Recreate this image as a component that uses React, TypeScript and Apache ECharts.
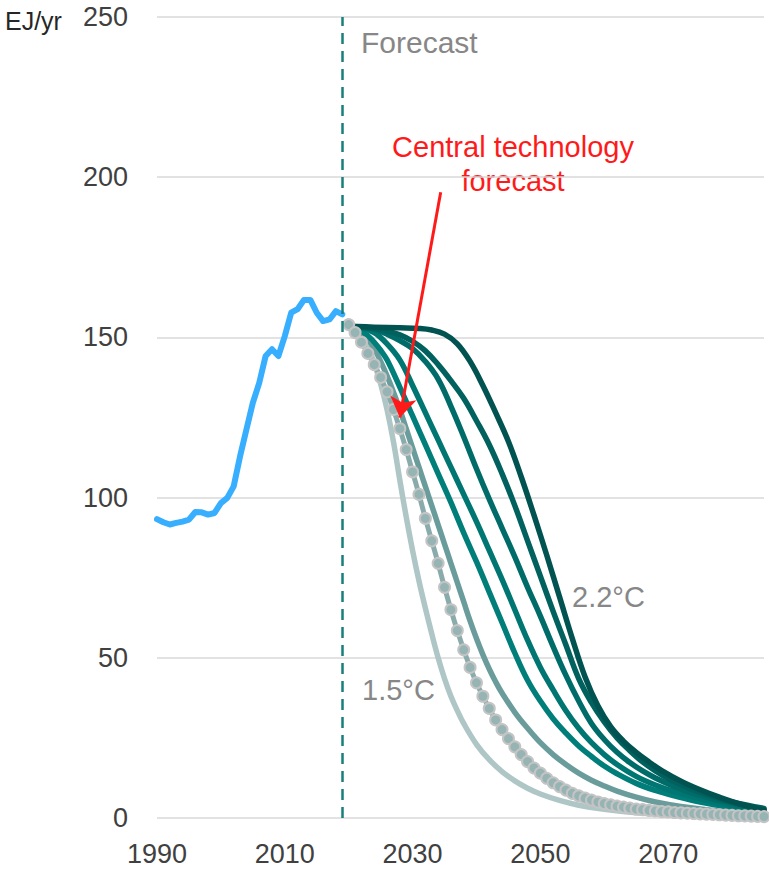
import React, { useEffect, useRef } from "react";
import * as echarts from "echarts";

// ---------- data ----------
const historyYears = [
  1990, 1991, 1992, 1993, 1994, 1995, 1996, 1997, 1998, 1999,
  2000, 2001, 2002, 2003, 2004, 2005, 2006, 2007, 2008, 2009,
  2010, 2011, 2012, 2013, 2014, 2015, 2016, 2017, 2018, 2019,
];
const historyValues = [
  93.3, 92.3, 91.6, 92.1, 92.5, 93.1, 95.5, 95.4, 94.7, 95.2,
  98.3, 99.9, 103.5, 112.9, 121.3, 129.6, 135.8, 144.2, 146.3, 144.2,
  150.4, 157.7, 158.8, 161.7, 161.7, 157.7, 155.1, 155.6, 158.2, 157.2,
];

// central technology forecast, one value per year 2020..2085
const centralStartYear = 2020;
const centralValues = [
  154, 151.5, 148.5, 145, 141.5, 137.5, 133, 127.5, 121.5, 115,
  108, 101, 93.5, 86.5, 79.5, 72, 65, 58.5, 52.5, 47,
  42.2, 38, 34.2, 30.6, 27.6, 24.8, 22.2, 19.8, 17.6, 15.6,
  14, 12.4, 11, 9.8, 8.7, 7.7, 6.9, 6.2, 5.6, 5,
  4.5, 4.1, 3.7, 3.4, 3.1, 2.8, 2.6, 2.4, 2.2, 2.0,
  1.9, 1.7, 1.6, 1.5, 1.4, 1.3, 1.2, 1.1, 1.0, 0.9,
  0.8, 0.7, 0.65, 0.6, 0.5, 0.45,
];

// [year, EJ/yr] pathways, from the fastest (1.5°C) to the slowest (2.2°C)
const path15C: [number, number][] = [
  [2020, 153.5], [2021, 152.5], [2022, 150.5], [2023, 147], [2024, 142], [2025, 135.5],
  [2026, 127.5], [2027, 117.5], [2028, 105.5], [2029, 94], [2030, 83.5], [2031, 74],
  [2032, 65.5], [2033, 57.5], [2034, 50], [2035, 43.5], [2036, 38], [2037, 33.5],
  [2038, 29.5], [2040, 23], [2042, 18.2], [2044, 14.5], [2046, 11.6], [2048, 9.3],
  [2050, 7.5], [2053, 5.5], [2056, 4], [2060, 2.7], [2065, 1.6], [2070, 1],
  [2075, 0.6], [2080, 0.4], [2085, 0.25],
];
const pathB: [number, number][] = [
  [2020, 153.5], [2021, 153], [2022, 151.5], [2023, 149.5], [2024, 146.5], [2025, 142.5],
  [2026, 138], [2027, 133], [2028, 127.5], [2029, 121.5], [2030, 115.5], [2031, 109.5],
  [2032, 103.5], [2033, 97.5], [2034, 91.5], [2035, 85.5], [2036, 79.5], [2037, 73.5],
  [2038, 67.5], [2039, 61.5], [2040, 56], [2041, 51], [2042, 46.5], [2043, 42.5],
  [2044, 39], [2046, 33], [2048, 28], [2050, 23.5], [2052, 19.8], [2054, 16.7],
  [2056, 14], [2058, 11.8], [2060, 10], [2062, 8.4], [2065, 6.5], [2068, 5],
  [2072, 3.6], [2076, 2.6], [2080, 1.9], [2085, 1.3],
];
const pathC: [number, number][] = [
  [2020, 153.5], [2021, 153], [2022, 152], [2023, 150.5], [2024, 148.5], [2025, 146],
  [2026, 143], [2028, 134.5], [2030, 125.5], [2032, 116.5], [2034, 107.5], [2036, 98.5],
  [2038, 89], [2040, 80], [2042, 70.5], [2044, 61], [2046, 51.5], [2048, 43],
  [2050, 36.5], [2052, 31], [2054, 26.5], [2056, 22.5], [2058, 19.2], [2060, 16.2],
  [2062, 13.8], [2065, 10.8], [2068, 8.6], [2071, 6.9], [2075, 5], [2080, 3.3],
  [2085, 2],
];
const pathD: [number, number][] = [
  [2020, 153.5], [2022, 153], [2024, 151.5], [2026, 148], [2028, 143], [2030, 135],
  [2032, 126.5], [2034, 118], [2036, 109.5], [2038, 101], [2040, 92.5], [2042, 83.5],
  [2044, 74.5], [2046, 65], [2048, 55.5], [2050, 47], [2052, 40], [2054, 33.5],
  [2056, 28], [2058, 23.5], [2060, 19.8], [2062, 16.7], [2065, 13], [2068, 10.3],
  [2071, 8.2], [2075, 6], [2080, 3.8], [2085, 2.2],
];
const pathE: [number, number][] = [
  [2020, 153.5], [2022, 153.2], [2024, 152.5], [2026, 151], [2028, 149], [2030, 146.5],
  [2032, 142.5], [2034, 137], [2036, 128.5], [2038, 119], [2040, 109], [2042, 99.5],
  [2044, 90.5], [2046, 81.5], [2048, 72], [2050, 63], [2052, 53.5], [2054, 44.5],
  [2056, 36.5], [2058, 29.5], [2060, 24.5], [2062, 20.5], [2064, 17.3], [2066, 14.7],
  [2068, 12.5], [2071, 9.8], [2074, 7.6], [2078, 5.4], [2081, 4], [2085, 2.6],
];
const pathF: [number, number][] = [
  [2020, 153.5], [2022, 153.2], [2024, 152.8], [2026, 152], [2028, 150.8], [2030, 148.8],
  [2032, 145.8], [2034, 141.5], [2036, 136.5], [2038, 131], [2040, 124], [2042, 116.5],
  [2044, 107.5], [2046, 97.5], [2048, 86.5], [2050, 75.5], [2052, 64.5], [2054, 54],
  [2056, 43.5], [2058, 36], [2060, 30], [2062, 25], [2064, 21], [2066, 17.5],
  [2068, 14.7], [2070, 12.3], [2073, 9.5], [2076, 7.3], [2080, 5], [2085, 3],
];
const path22C: [number, number][] = [
  [2020, 153.5], [2024, 153.2], [2028, 153], [2031, 152.8], [2033, 152.3], [2035, 151],
  [2037, 148], [2039, 142.5], [2041, 135], [2043, 126.5], [2045, 117.5], [2047, 106.5],
  [2049, 94.5], [2051, 82], [2053, 69], [2055, 56], [2057, 44], [2059, 35],
  [2061, 28.5], [2063, 24], [2065, 20.5], [2067, 17.5], [2069, 14.8], [2072, 11.5],
  [2075, 8.8], [2078, 6.5], [2081, 4.5], [2085, 2.5],
];

const xMin = 1990;
const xMax = 2085;
const xTickStep = 20;
const yMax = 250;
const yTickStep = 50;
const forecastYear = 2019;
const arrowFrom: [number, number] = [2034.4, 195.3];
const arrowTo: [number, number] = [2028.0, 125];

const FONT = "'Liberation Sans', Arial, sans-serif";

export default function App() {
  const ref = useRef<HTMLDivElement>(null);

  useEffect(() => {
    if (!ref.current) return;
    const chart = echarts.init(ref.current, undefined, { renderer: "svg" });

    const history = historyYears.map((y, i) => [y, historyValues[i]]);
    const central = centralValues.map((v, i) => [centralStartYear + i, v]);

    const pathLine = (name: string, data: [number, number][], color: string) => ({
      name,
      type: "line",
      data,
      smooth: 0.4,
      showSymbol: false,
      lineStyle: { color, width: 5.5, cap: "round", join: "round" },
      emphasis: { disabled: true },
    });

    const option: any = {
      animation: false,
      grid: { left: 157, right: 5, top: 17, bottom: 52 },
      xAxis: {
        type: "value",
        min: xMin,
        max: xMax,
        interval: xTickStep,
        axisLine: { show: false },
        axisTick: { show: false },
        splitLine: { show: false },
        axisLabel: {
          fontSize: 27,
          fontFamily: FONT,
          color: "#404040",
          margin: 22,
          formatter: (v: number) => ((v - xMin) % xTickStep === 0 ? String(v) : ""),
        },
      },
      yAxis: {
        type: "value",
        min: 0,
        max: yMax,
        interval: yTickStep,
        axisLine: { show: false },
        axisTick: { show: false },
        splitLine: { lineStyle: { color: "#D9D9D9", width: 1.5 } },
        axisLabel: { fontSize: 27, fontFamily: FONT, color: "#404040", margin: 29 },
      },
      series: [
        {
          name: "History",
          type: "line",
          data: history,
          showSymbol: false,
          lineStyle: { color: "#38AEFF", width: 6, cap: "round", join: "round" },
          emphasis: { disabled: true },
          markLine: {
            silent: true,
            symbol: ["none", "none"],
            label: { show: false },
            lineStyle: { color: "#17807A", width: 2.5, type: [11, 7] },
            data: [{ xAxis: forecastYear }],
          },
        },
        pathLine("1.5°C", path15C, "#AFC6C6"),
        {
          name: "Central technology forecast",
          type: "line",
          data: central,
          smooth: 0.3,
          showSymbol: true,
          showAllSymbol: true,
          symbol: "circle",
          symbolSize: 11,
          itemStyle: { color: "#97B4B4", borderColor: "#C4C4C4", borderWidth: 2 },
          lineStyle: { color: "#8AABAB", width: 5 },
          emphasis: { disabled: true },
          markLine: {
            silent: true,
            symbol: ["none", "arrow"],
            symbolSize: 20,
            label: { show: false },
            lineStyle: { color: "#FF1A1A", width: 3, type: "solid" },
            data: [[{ coord: arrowFrom }, { coord: arrowTo }]],
          },
        },
        pathLine("B", pathB, "#6A9C9C"),
        pathLine("C", pathC, "#007E7A"),
        pathLine("D", pathD, "#007672"),
        pathLine("E", pathE, "#006C69"),
        pathLine("F", pathF, "#00615E"),
        pathLine("2.2°C", path22C, "#005350"),
      ],
      graphic: [
        {
          type: "text",
          left: 5,
          top: 8,
          style: { text: "EJ/yr", fontSize: 25, fontFamily: FONT, fill: "#262626" },
        },
        {
          type: "text",
          x: 361,
          y: 42,
          style: {
            text: "Forecast",
            fontSize: 30,
            fontFamily: FONT,
            fill: "#878787",
            verticalAlign: "middle",
          },
        },
        {
          type: "text",
          x: 513,
          y: 147,
          style: {
            text: "Central technology",
            fontSize: 29,
            fontFamily: FONT,
            fill: "#FF1A1A",
            align: "center",
            verticalAlign: "middle",
          },
        },
        {
          type: "text",
          x: 513,
          y: 181,
          style: {
            text: "forecast",
            fontSize: 29,
            fontFamily: FONT,
            fill: "#FF1A1A",
            align: "center",
            verticalAlign: "middle",
          },
        },
        {
          type: "text",
          x: 362,
          y: 690,
          style: {
            text: "1.5°C",
            fontSize: 29,
            fontFamily: FONT,
            fill: "#878787",
            verticalAlign: "middle",
          },
        },
        {
          type: "text",
          x: 572,
          y: 597,
          style: {
            text: "2.2°C",
            fontSize: 29,
            fontFamily: FONT,
            fill: "#878787",
            verticalAlign: "middle",
          },
        },
      ],
    };

    chart.setOption(option);
    return () => chart.dispose();
  }, []);

  return (
    <div
      ref={ref}
      style={{ position: "absolute", left: 0, top: 0, width: 769, height: 870, background: "#fff" }}
    />
  );
}
